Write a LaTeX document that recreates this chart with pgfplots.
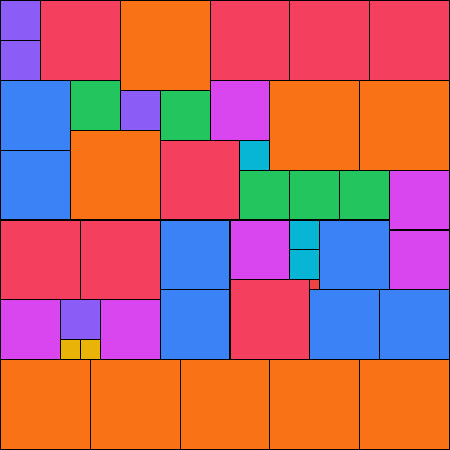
\documentclass[border=0pt]{standalone}
\usepackage{pgfplots}
\pgfplotsset{compat=1.18}

\definecolor{cred}{HTML}{F43F5E}
\definecolor{corange}{HTML}{F97316}
\definecolor{cblue}{HTML}{3B82F6}
\definecolor{cgreen}{HTML}{22C55E}
\definecolor{cpurple}{HTML}{8B5CF6}
\definecolor{cmagenta}{HTML}{D946EF}
\definecolor{ccyan}{HTML}{06B6D4}
\definecolor{cyellow}{HTML}{EAB308}
\definecolor{cred2}{HTML}{EF4444}

% one tile: colour, x0, y0, x1, y1 (pixels, y downwards)
\newcommand{\tile}[5]{%
  \addplot[draw=black, line width=0.4pt, fill=#1, mark=none]
    coordinates {(#2,#3) (#4,#3) (#4,#5) (#2,#5)} -- cycle;}

\begin{document}
\begin{tikzpicture}
\begin{axis}[
    scale only axis,
    width=6cm, height=6cm,
    xmin=0, xmax=450, ymin=0, ymax=450,
    y dir=reverse,
    hide axis,
    clip=false,
]
% top band
\tile{cpurple}{0}{0}{40}{40}
\tile{cpurple}{0}{40}{40}{80}
\tile{cred}{40}{0}{120}{80}
\tile{corange}{120}{0}{210}{90}
\tile{cred}{210}{0}{290}{80}
\tile{cred}{290}{0}{370}{80}
\tile{cred}{370}{0}{450}{80}
% second band
\tile{cblue}{0}{80}{70}{150}
\tile{cgreen}{70}{80}{120}{130}
\tile{cpurple}{120}{90}{160}{130}
\tile{cgreen}{160}{90}{210}{140}
\tile{cmagenta}{210}{80}{270}{140}
\tile{corange}{270}{80}{360}{170}
\tile{corange}{360}{80}{450}{170}
\tile{cblue}{0}{150}{70}{220}
\tile{corange}{70}{130}{160}{220}
\tile{cred}{160}{140}{240}{220}
\tile{ccyan}{240}{140}{270}{170}
\tile{cgreen}{240}{170}{290}{220}
\tile{cgreen}{290}{170}{340}{220}
\tile{cgreen}{340}{170}{390}{220}
\tile{cmagenta}{390}{170}{450}{230}
% third band
\tile{cred}{0}{220}{80}{300}
\tile{cred}{80}{220}{160}{300}
\tile{cblue}{160}{220}{230}{290}
\tile{cmagenta}{230}{220}{290}{280}
\tile{ccyan}{290}{220}{320}{250}
\tile{ccyan}{290}{250}{320}{280}
\tile{cblue}{320}{220}{390}{290}
\tile{cmagenta}{390}{230}{450}{290}
\tile{cred2}{310}{280}{320}{290}
\tile{cred}{230}{280}{310}{360}
\tile{cblue}{160}{290}{230}{360}
\tile{cblue}{310}{290}{380}{360}
\tile{cblue}{380}{290}{450}{360}
\tile{cmagenta}{0}{300}{60}{360}
\tile{cpurple}{60}{300}{100}{340}
\tile{cyellow}{60}{340}{80}{360}
\tile{cyellow}{80}{340}{100}{360}
\tile{cmagenta}{100}{300}{160}{360}
% bottom band
\tile{corange}{0}{360}{90}{450}
\tile{corange}{90}{360}{180}{450}
\tile{corange}{180}{360}{270}{450}
\tile{corange}{270}{360}{360}{450}
\tile{corange}{360}{360}{450}{450}
\end{axis}
\end{tikzpicture}
\end{document}
